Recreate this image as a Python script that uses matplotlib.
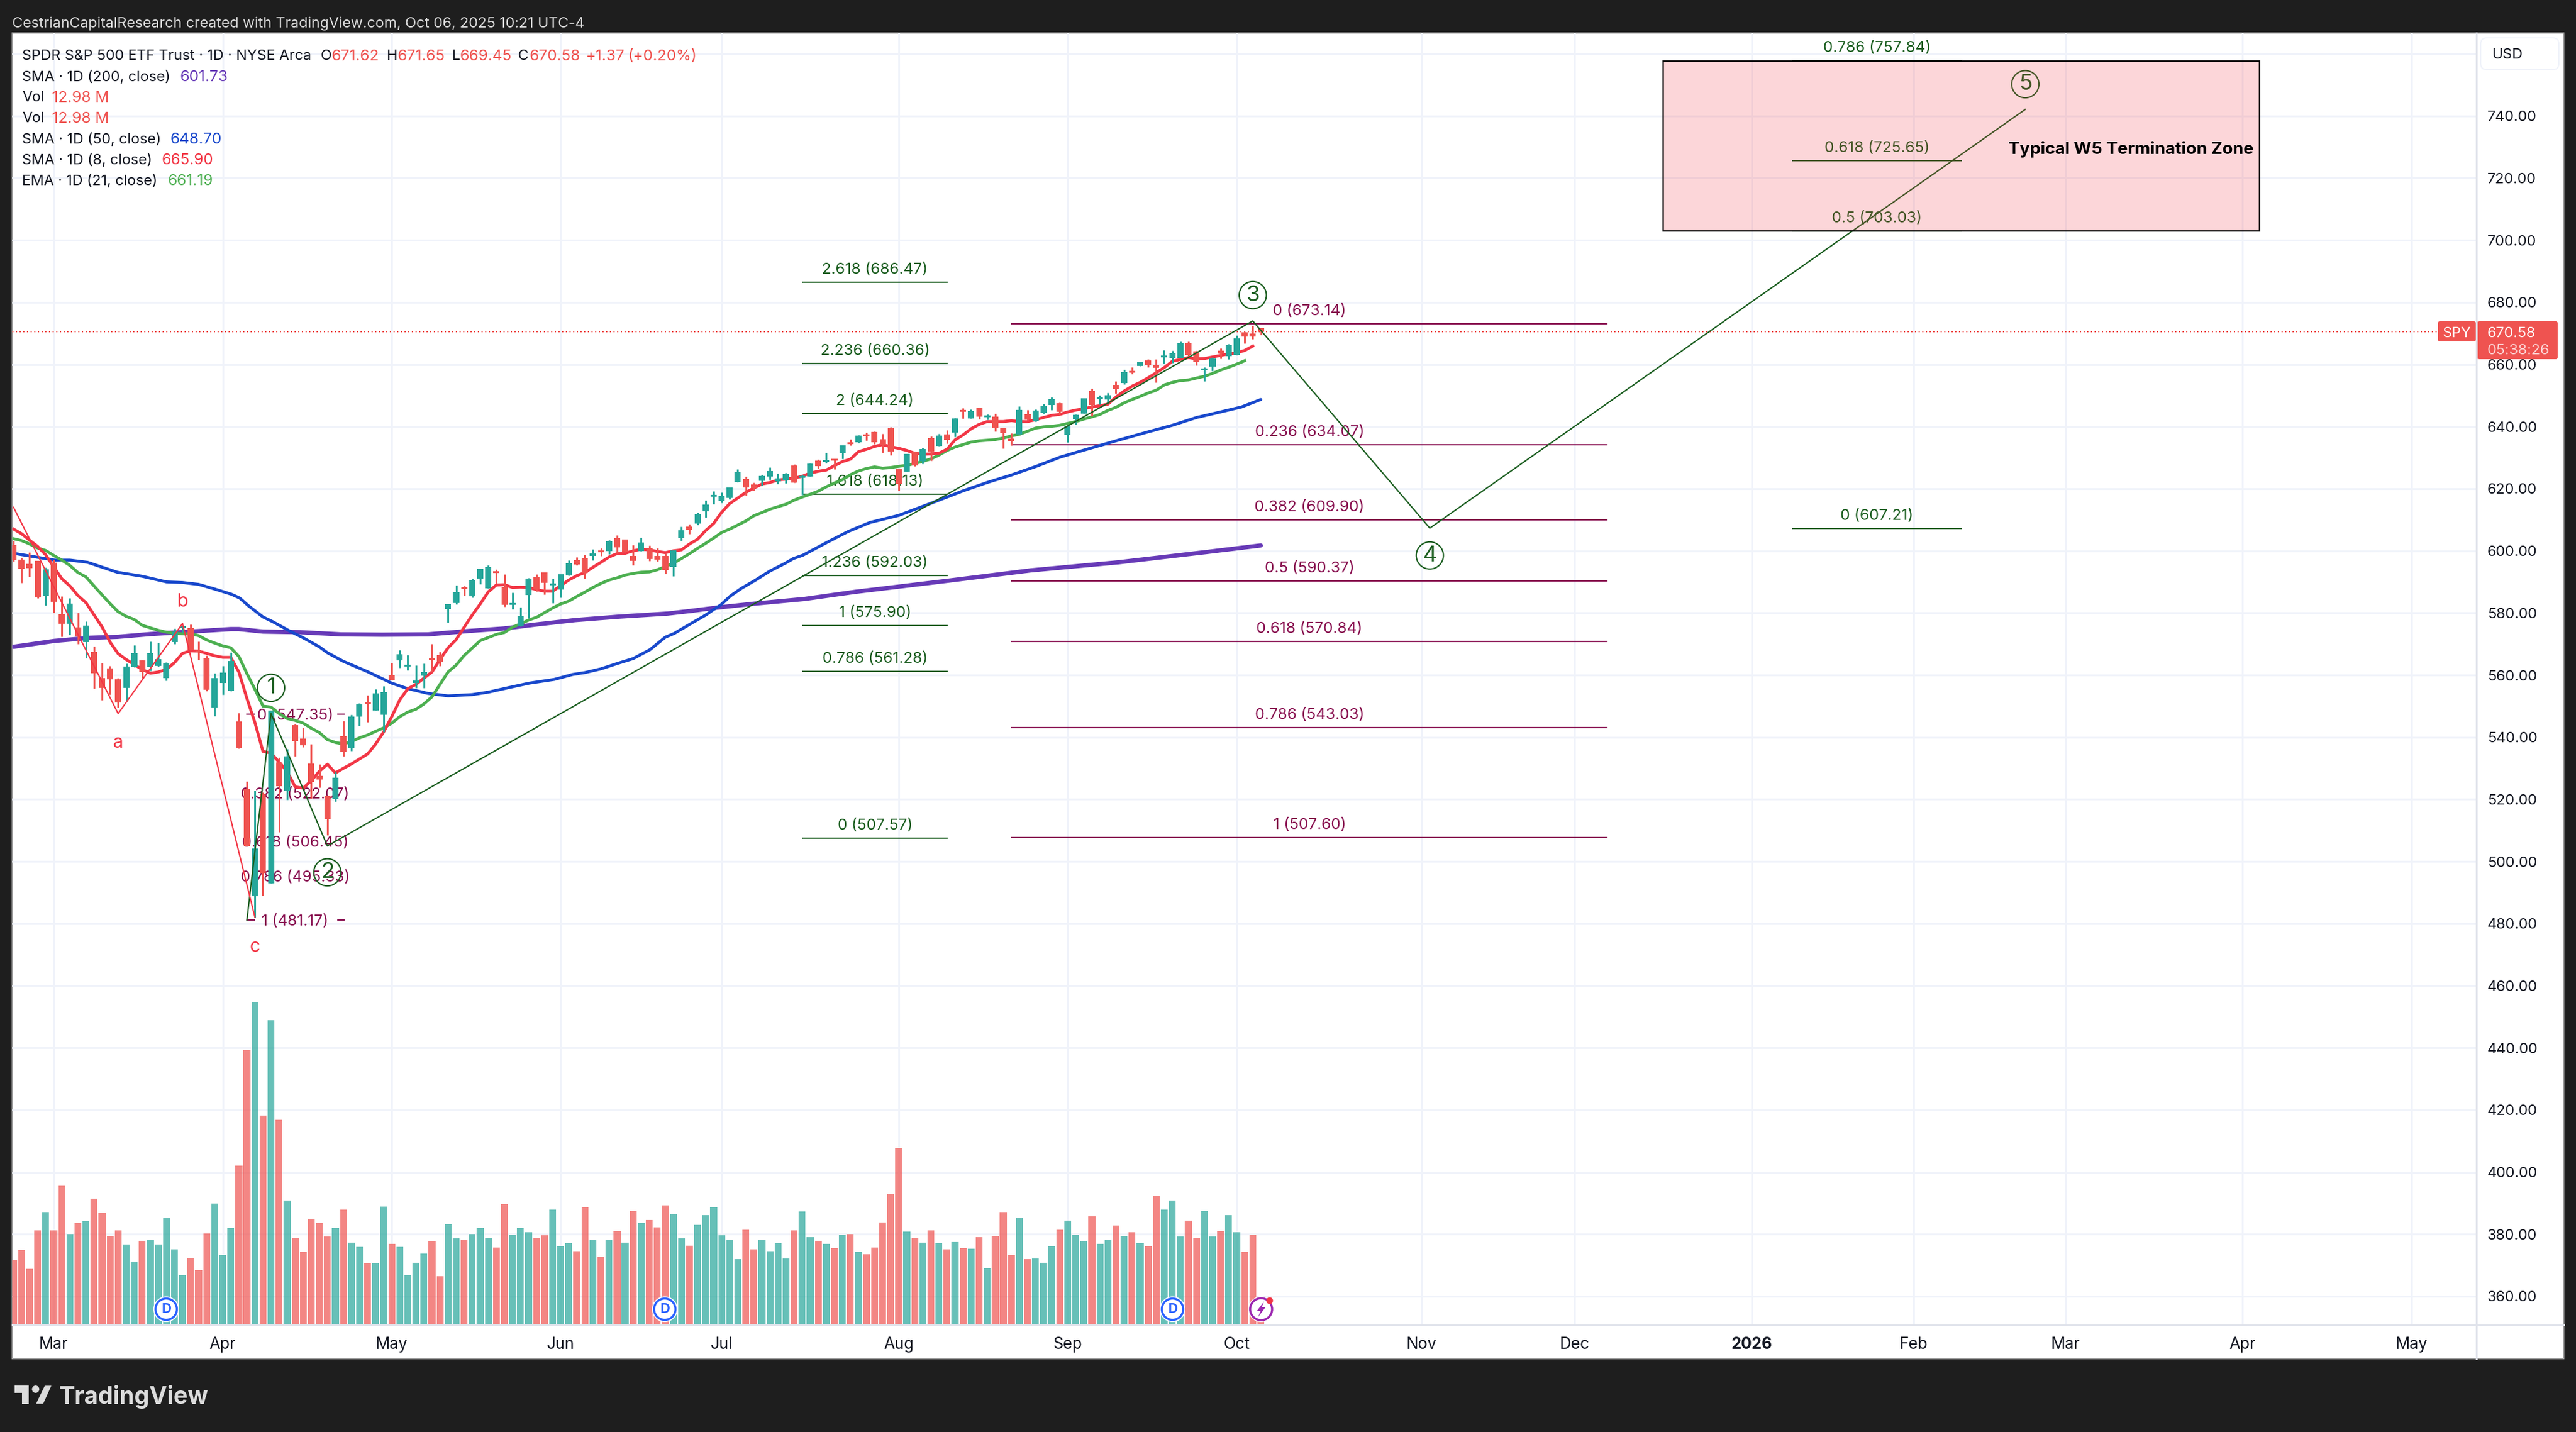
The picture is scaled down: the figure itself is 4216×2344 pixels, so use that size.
import matplotlib
matplotlib.use("Agg")
import matplotlib.pyplot as plt
from matplotlib.patches import Rectangle, Circle, FancyBboxPatch, Polygon

plt.rcParams['font.family'] = ['Inter', 'DejaVu Sans']

# ---------- data ----------
first_bar = -5   # Feb 24 2025; bar 0 is Mar 3 2025
opens = [601.9,597.2,595.7,596.8,585.6, 596.1,579.7,576.5,575.3,570.6,567.5,559.1,562.2,558.6,555.9,
 562.6,564.7,562.6,563.0,559.1,570.6,575.2,575.2,567.7,565.5,549.5,557.4,554.8,545.0,523.5,
 488.9,521.7,493.0,531.9,522.6,543.9,539.5,531.4,527.5,521.0,520.0,540.3,536.6,546.6,551.0,
 548.6,547.3,560.1,564.7,562.7,557.5,559.8,565.6,566.5,581.3,583.2,587.9,585.3,591.0,588.0,
 593.0,588.3,582.7,575.7,585.7,591.4,593.0,589.0,587.5,592.1,596.9,597.5,598.3,599.8,600.0,
 604.0,603.6,598.3,600.0,601.0,598.3,598.3,594.8,604.0,607.7,608.7,612.7,617.5,616.0,617.0,
 622.2,623.2,621.3,622.6,623.9,622.4,622.8,627.5,623.6,624.0,629.1,628.6,629.1,631.4,634.6,
 634.9,637.2,638.2,635.9,639.4,626.2,625.5,631.8,628.8,636.3,633.7,637.4,638.1,645.0,642.6,
 645.9,643.0,643.1,639.4,636.2,637.5,643.9,641.8,644.3,647.0,647.5,637.3,642.4,644.2,651.4,
 648.9,648.7,653.5,654.0,657.5,659.5,661.3,659.8,662.2,662.0,662.1,666.7,664.3,658.1,659.4,
 664.4,662.7,663.1,670.4,669.9,671.62]
highs = [603.2,597.7,599.5,596.8,594.6, 597.2,585.3,584.8,580.1,577.3,569.3,563.9,563.0,559.0,563.7,
 569.6,564.9,570.8,570.4,564.2,575.0,575.8,576.3,570.8,566.2,560.6,563.0,567.2,547.8,525.8,
 522.9,522.2,548.6,533.4,536.3,544.2,543.0,537.8,531.2,521.0,529.0,545.3,547.3,550.9,553.5,
 555.4,556.4,563.9,568.1,566.4,563.2,563.7,570.0,567.5,582.9,589.0,588.8,591.0,594.2,595.4,
 594.0,592.4,586.5,581.8,591.2,592.5,593.0,591.0,592.5,596.9,597.9,598.8,600.6,601.0,603.4,
 605.0,603.6,601.8,604.3,601.6,601.0,599.1,600.4,607.7,608.6,612.3,616.3,619.1,618.8,620.3,
 626.2,623.9,622.0,624.5,626.8,624.9,625.1,627.8,624.5,628.3,629.4,631.5,629.6,634.0,636.0,
 637.2,638.0,638.5,637.7,639.8,626.5,631.1,632.0,633.2,636.8,637.6,638.8,642.7,646.0,645.5,
 646.1,643.9,644.1,639.6,637.8,646.5,645.3,645.5,647.4,649.5,647.8,640.1,644.0,649.1,652.2,
 650.0,650.8,654.6,658.3,659.2,660.9,661.6,661.6,664.7,664.5,667.3,667.3,664.5,659.2,662.2,
 665.2,666.5,669.3,670.6,672.5,671.65]
lows = [596.5,589.7,591.6,584.8,582.5, 580.0,572.3,573.0,570.1,565.6,555.6,552.0,553.7,549.5,551.5,
 562.6,559.1,561.3,562.8,558.2,570.0,573.8,568.1,564.9,554.9,546.8,553.7,554.8,536.5,505.0,
 482.0,489.1,493.0,509.4,519.9,533.9,536.8,520.2,523.8,508.5,519.2,533.9,535.7,543.7,544.9,
 548.6,541.7,558.4,562.3,561.6,555.9,555.9,561.0,563.0,577.0,582.9,585.5,585.0,589.3,588.0,
 589.5,582.0,581.3,575.7,578.3,587.0,586.0,583.2,585.0,592.1,595.4,591.1,596.9,598.4,599.0,
 599.2,599.5,595.4,600.0,596.8,596.5,592.7,591.9,603.2,605.4,608.4,610.8,615.0,615.5,616.7,
 622.2,617.9,619.4,620.9,622.9,621.6,621.8,621.9,618.0,624.0,626.5,628.3,626.2,629.7,634.0,
 634.7,635.6,634.4,631.6,630.8,619.3,625.5,627.2,628.1,629.1,633.7,634.6,636.7,642.6,642.6,
 642.4,642.2,638.4,632.9,634.0,637.5,642.1,641.6,644.2,645.4,643.7,634.9,640.6,644.2,643.4,
 647.2,647.5,650.6,653.6,657.0,659.5,659.1,654.2,660.3,660.4,662.1,662.2,659.8,654.6,658.0,
 661.9,661.7,663.1,666.8,668.1,669.45]
closes = [597.0,594.3,594.4,585.0,594.1, 583.6,576.6,583.0,572.3,576.0,560.5,555.8,558.6,551.2,562.8,
 567.1,560.9,567.1,565.2,563.9,573.9,575.4,568.1,567.2,555.2,559.1,560.8,564.5,536.5,505.0,
 504.2,496.2,548.6,524.3,533.9,538.8,537.3,525.6,526.3,513.6,527.0,535.2,546.6,550.5,550.7,
 554.2,554.4,558.4,566.7,563.0,558.2,560.9,565.0,564.2,582.9,586.7,587.7,590.4,594.2,594.8,
 592.8,582.6,582.9,579.0,591.1,587.5,589.7,589.2,592.5,595.9,595.6,592.9,599.1,599.6,603.0,
 601.1,599.8,596.8,602.6,597.3,597.1,593.9,600.1,606.7,606.8,611.8,614.8,617.9,617.6,620.3,
 625.2,620.4,620.2,624.1,625.6,623.4,624.7,621.9,624.0,628.0,627.3,628.8,629.0,634.0,634.3,
 637.0,636.9,635.0,634.2,631.9,621.6,631.1,627.5,632.7,632.0,637.0,635.7,642.6,644.8,645.0,
 643.2,643.2,639.6,637.8,635.4,645.3,642.2,645.2,646.5,648.9,644.8,640.1,643.8,649.0,647.0,
 649.1,650.1,652.1,657.5,657.3,660.8,659.7,659.0,662.4,663.6,666.7,663.0,660.9,658.2,661.8,
 663.4,666.2,668.3,668.9,669.0,670.58]
volume_m = [51.0,58.9,43.9,74.4,89.1, 74.4,109.9,71.6,80.4,81.8,99.8,88.7,70.2,74.4,63.3,
 49.7,66.3,67.2,63.3,84.3,59.4,39.0,52.7,42.7,72.1,95.8,55.0,76.4,126.1,218.0,
 256.4,166.1,241.8,162.6,98.4,68.6,57.5,83.8,80.4,69.5,76.4,91.0,64.7,61.4,48.3,
 48.3,93.5,63.7,61.4,39.0,48.7,55.9,65.8,37.9,79.4,68.1,66.7,71.6,76.4,68.6,
 60.7,95.4,71.1,76.4,73.0,68.6,70.7,91.0,61.9,64.2,58.0,93.1,67.2,53.6,66.7,
 73.9,64.7,90.1,80.4,82.7,76.9,94.5,87.7,68.3,62.4,79.0,86.7,93.2,70.7,66.8,
 51.7,75.1,59.5,66.8,58.0,64.4,52.2,74.6,89.8,69.1,66.3,63.9,60.5,71.2,71.7,
 57.5,55.6,60.9,81.0,103.8,140.3,73.5,68.8,64.9,74.6,64.4,59.5,65.3,60.5,60.0,
 69.1,44.3,70.2,89.3,55.1,84.9,51.7,52.2,48.7,61.9,75.1,82.3,71.2,65.8,85.7,
 63.9,66.8,78.4,70.2,73.2,64.4,61.9,102.3,91.1,98.4,69.7,82.3,68.8,90.1,69.7,
 74.0,86.7,73.2,57.5,71.2,12.98]

sma8 = [607,605.5,603.4,601.4,598.7, 594.8,591,588.7,585.6,583.3,579.4,575.5,570.6,566.9,565,
 563.4,561.8,560.6,561,561.8,564,567,567.8,567.7,567,566.2,565.7,565.7,561,552.5,
 544.7,535.4,534.9,532,529,524,523.6,526,529,531.3,528.5,530,531.4,533,534.6,
 537.8,541.7,546.6,552,555.6,557,559,561,565,568.8,571.4,575.4,579.3,582.9,586.8,
 589,589.1,588.2,588.3,588.2,587.5,587,587,588.8,590.6,592,593,594.7,596.3,598,
 599.1,599.2,600,600.5,600.3,599.8,599.4,600,600.3,602.2,603.7,606.5,608.8,612.4,615.2,
 617,618.8,620.2,621.5,622,622.8,623.1,623.4,624,625,625.6,626,627.4,628.7,629.5,
 631.9,632.7,633.6,634.2,633.5,633,632.3,631.4,631.1,631.2,631.4,632.7,635.7,637.3,639.3,
 640.7,641.6,641.6,641.6,641.9,641.6,641.6,642.2,642.9,643.6,643.9,644.7,645.3,645.7,646.3,
 646.7,647.2,649.5,651.4,653,654.2,655.7,657.3,659,661,661.6,662.2,661.8,661.9,662.4,
 662.9,663.4,663.7,664.5,665.9]
ema21 = [603.9,603.3,602.2,600.9,600.1, 598.5,597,595.3,593,591.6,588.7,585.8,583,580.4,578.9,
 577.9,576,575.2,574.4,573.8,573.5,573.3,573.3,572.7,571.3,570.3,569.4,568.8,566,560.5,
 555.4,550,549.7,547.6,546,545.4,544.5,542.9,541.5,539.2,538.3,537.8,538.6,539.8,540.7,
 541.9,543,544.5,546.6,548.1,549,550.7,553,557,561,563.2,566.3,568.7,571.1,572.1,
 573.1,573.7,575.4,576.5,577.7,578.6,580.1,581.6,582.9,583.8,585.3,586.7,588.2,589.5,590.6,
 591.3,592.2,592.7,593.1,593.2,593.9,594.9,596,597.5,599.1,600.8,602.4,604.1,605.9,607,
 608.3,609.6,611.3,612.3,613.4,614.2,615,616.3,617.3,618.2,619.2,620.6,621.8,622.9,624.5,
 625.7,626.5,627,626.6,626.8,627.2,627.5,628.1,628.8,629.6,630.8,632.3,633.4,634.2,635,
 635.4,635.6,635.8,636.3,637,637.5,638.5,639.5,639.9,640.1,640.4,641,641.6,642.4,643.1,
 643.9,645.2,646.2,647.6,648.7,649.7,650.8,651.7,653.4,654.2,654.8,655,655.6,656.2,657.1,
 658.2,659.1,660.1,661.19]
ema21_first = -5
sma50_x = [-5,0.1,2,4.2,7.9,11,14,16,18,20,22.1,23.1,24.2,26,27.2,29.3,31,33,34,36,38.9,42,43.9,46.5,49,52,54,56.6,59.1,62.2,64.5,66,68,70,72,74.1,76,77.1,79,81,82,82.9,84.1,85.5,87.1,89,90.9,91.9,93.1,96,98.7,101.4,105,108.7,113,116,119,122.1,125,128,132,136,139,142,145,147.6,150]
sma50_y = [599.2,597,597,596.3,593.1,591.8,590,589.8,589.2,587.7,586,584.8,582.3,578.7,577.2,574.2,572,569.1,567.2,564.4,561.2,557.4,555.7,554.1,553.3,553.7,554.5,556,557.4,558.6,560.2,560.8,562,563.7,565.3,568.2,572.2,573.4,576.3,579.3,581.1,582.6,585.5,588,590.4,593.5,596,597.5,598.6,602.6,606.2,609.1,611.4,615,619.3,622,624.4,627.2,630.1,632.4,635.4,638.3,640.4,642.9,644.7,646.3,648.7]
sma200_x = [-5,0.1,4.5,7.9,12,17,22,23,26,30.6,35.7,40.8,46.5,51.6,56,60,64.8,70.2,76.3,79,82.4,87.1,93.3,99.6,111.2,121.4,132.3,143.2,150]
sma200_y = [569.1,571,572,572.3,573.2,574,574.8,574.8,574,573.8,573.1,573,573.1,574.2,575,576.3,577.7,578.8,579.8,580.6,581.7,583,584.5,586.8,590.4,593.7,596.3,599.6,601.73]

vol_dirs = ("rrrrg" "rrgrgrrrrg" "grgggggrrr" "gggrrgrgrg" "rrrrrgrggr" "ggrggggrrg"
            "grgggrrggg" "rrgggrrgrg" "rgrgrrrggr" "ggggggrrgg" "ggrggrgrgr"
            "grrrrrgrgr" "grgrgrgrrr" "grgggrgggr" "ggrgrgrrgg" "grrgg" "rggrrr")

level_green = [2.618,2.236,2,1.618,1.236,1,0.786,0]
price_green = [686.47,660.36,644.24,618.13,592.03,575.90,561.28,507.57]
level_purple = [0,0.236,0.382,0.5,0.618,0.786,1]
price_purple = [673.14,634.07,609.90,590.37,570.84,543.03,507.60]
level_apr = [0,0.382,0.618,0.786,1]
price_apr = [547.35,522.07,506.45,495.33,481.17]
level_top = [0.786,0.618,0.5,0]
price_top = [757.84,725.65,703.03,607.21]

wave_x = [24,27,34,149,171,245]
wave_y = [481.1,547.6,505.0,674.0,607.3,742.1]
abc_x = [-5,8,16,25]
abc_y = [614,547.6,576.6,482]
wave_labels = ["1","2","3","4","5"]
wave_lx = [27,34,149,171,245]
wave_ly = [555.9,496.5,682.3,598.5,750.2]
abc_labels = ["a","b","c"]
abc_lx = [8,16,25]
abc_ly = [538.6,584,472.9]

month_labels = ["Mar","Apr","May","Jun","Jul","Aug","Sep","Oct","Nov","Dec","2026","Feb","Mar","Apr","May"]
month_x = [0,21,42,63,83,105,126,147,170,189,211,231.1,250,272,293]
price_ticks = [360,380,400,420,440,460,480,500,520,540,560,580,600,620,640,660,680,700,720,740,760]
last_price = 670.58

GREEN_TXT = "#1b5e20"; PURP = "#880e4f"; RED = "#f23645"
UP = "#26a69a"; DOWN = "#ef5350"; INK = "#131722"
def px(v): return v * 0.72
DY = 2.5   # text centring correction, pixels

# ---------- figure ----------
W, H = 4216, 2344
fig = plt.figure(figsize=(W/100, H/100), dpi=100, facecolor="#1e1e1e")

under = fig.add_axes([0,0,1,1], zorder=0); under.set_xlim(0,W); under.set_ylim(H,0); under.axis("off")
under.add_patch(Rectangle((20,54),4176,2170,fc="white",ec="#9a9a9a",lw=px(2)))

pos = [20/W,(H-2169)/H,(4053-20)/W,(2169-54)/H]
XL = (-5.163,301.06)
YL = (350.76,766.69)
axg = fig.add_axes(pos, zorder=1)
axv = fig.add_axes(pos, zorder=2)
axp = fig.add_axes(pos, zorder=3)
for a in (axg,axv,axp):
    a.patch.set_visible(False)
    a.set_xlim(*XL); a.set_xticks([]); a.set_yticks([])
    for s in a.spines.values(): s.set_visible(False)
axg.set_ylim(*YL)
axv.set_ylim(-0.97,1028.7)
axp.set_ylim(*YL)

# grid
for t in price_ticks:
    axg.axhline(t,color="#f0f3fa",lw=px(3))
for x in month_x:
    axg.axvline(x,color="#f0f3fa",lw=px(3))

# volume
xs = list(range(first_bar, first_bar+len(closes)))
vcol = [UP if d=="g" else DOWN for d in vol_dirs]
axv.bar(xs, volume_m, width=0.85, color=vcol, alpha=0.7, lw=0)

def atext(x,y,s,**kw):
    axp.annotate(s,xy=(x,y),xytext=(0,px(-DY)),textcoords="offset points",ha="center",va="center",**kw)

# fibs
def fib(levels, prices, x0, x1, col):
    for l,p in zip(levels,prices):
        axp.plot([x0,x1],[p,p],color=col,lw=px(2.2),zorder=2,solid_capstyle="butt")
        axp.annotate(f"{l:g} ({p:.2f})",xy=((x0+x1)/2,p),xytext=(0,px(23-DY)),textcoords="offset points",
                     ha="center",va="center",color=col,fontsize=px(25),zorder=2)
fib(level_green,price_green,93.0,111.1,GREEN_TXT)
fib(level_purple,price_purple,119,193.1,PURP)
fib(level_top,price_top,216,237.1,GREEN_TXT)
for l,p in zip(level_apr,price_apr):
    atext(30,p,f"{l:g} ({p:.2f})",color=PURP,fontsize=px(25),zorder=2)
for p in (price_apr[0],price_apr[-1]):
    axp.plot([24,24.9],[p,p],color=PURP,lw=px(2.2),zorder=2)
    axp.plot([35.3,36.1],[p,p],color=PURP,lw=px(2.2),zorder=2)

# moving averages
axp.plot(sma200_x,sma200_y,color="#673ab7",lw=px(7),zorder=3,solid_capstyle="round")
axp.plot(sma50_x,sma50_y,color="#1848cc",lw=px(4.8),zorder=3,solid_capstyle="round")
axp.plot(range(ema21_first,ema21_first+len(ema21)),ema21,color="#4caf50",lw=px(4.8),zorder=3)
axp.plot(range(first_bar,first_bar+len(sma8)),sma8,color=RED,lw=px(4.8),zorder=3)

# candles
ccol = [UP if c>=o else DOWN for o,c in zip(opens,closes)]
axp.vlines(xs,lows,highs,colors=ccol,lw=px(3),zorder=4)
axp.bar(xs,[max(abs(c-o),0.6) for o,c in zip(opens,closes)],
        bottom=[min(o,c) for o,c in zip(opens,closes)],width=0.76,color=ccol,lw=0,zorder=4)

# wave drawings
axp.plot(wave_x,wave_y,color=GREEN_TXT,lw=px(2.2),zorder=5)
axp.plot(abc_x,abc_y,color=RED,lw=px(2.2),zorder=5)
for t,x,y in zip(wave_labels,wave_lx,wave_ly):
    axp.text(x,y,t,ha="center",va="center",color=GREEN_TXT,fontsize=px(36),zorder=5,
             bbox=dict(boxstyle="circle,pad=0.16",fc="none",ec=GREEN_TXT,lw=px(2.2)))
for t,x,y in zip(abc_labels,abc_lx,abc_ly):
    atext(x,y,t,color=RED,fontsize=px(30),zorder=5)

# last price line
axp.plot([XL[0],296.26],[last_price,last_price],color=DOWN,lw=px(2),ls=(0,(1,2)),zorder=3)

# termination zone
axp.add_patch(Rectangle((200,703),74.1,54.6,fc=(242/255,54/255,69/255,0.2),ec="black",lw=px(2.4),zorder=6))
axp.text(273.4,729.2,"Typical W5 Termination Zone",ha="right",va="center",fontsize=px(27.8),
         fontweight="bold",color="black",zorder=7)

# ---------- overlay ----------
ov = fig.add_axes([0,0,1,1], zorder=5); ov.set_xlim(0,W); ov.set_ylim(H,0); ov.axis("off"); ov.patch.set_visible(False)
ov.plot([4053,4053],[54,2224],color="#e0e3eb",lw=px(3))
ov.plot([20,4196],[2169,2169],color="#e0e3eb",lw=px(3))

def ypx(p): return 2122-(p-360)*5.085
def otx(x,y,s,fs,c=INK,ha="left",**kw):
    return ov.text(x,y+DY,s,ha=ha,va="center",fontsize=px(fs),color=c,**kw)
for t in price_ticks[:-1]:
    otx(4071,ypx(t),f"{t:.2f}",24)
for lab,x in zip(month_labels,month_x):
    otx(88+x*13.17,2198,lab,26,ha="center",fontweight="bold" if lab=="2026" else "normal")

ov.add_patch(FancyBboxPatch((4064,66),120,44,boxstyle="round,pad=4,rounding_size=10",fc="white",ec="#f0f3fa",lw=px(2)))
otx(4079,88,"USD",24)

ov.add_patch(FancyBboxPatch((3992,528),58,29,boxstyle="round,pad=2,rounding_size=3",fc=DOWN,ec="none"))
otx(4021,543,"SPY",24,"white",ha="center")
ov.add_patch(FancyBboxPatch((4056,528),128,58,boxstyle="round,pad=2,rounding_size=3",fc=DOWN,ec="none"))
otx(4071,543,f"{last_price:.2f}",24,"white")
otx(4071,572,"05:38:26",24,"#fbd0d0")

# header
otx(20,36,"CestrianCapitalResearch created with TradingView.com, Oct 06, 2025 10:21 UTC-4",23.8,"#d9d9d9")
def tx(x,y,s,c=INK):
    otx(x,y,s,23.8 if c==INK else 25,c)
tx(36,90,"SPDR S&P 500 ETF Trust · 1D · NYSE Arca")
for x,s,c in [(525,"O",INK),(543,"671.62",DOWN),(633,"H",INK),(650,"671.65",DOWN),(740,"L",INK),(753,"669.45",DOWN),
              (848,"C",INK),(866,"670.58",DOWN),(959,"+1.37",DOWN),(1027,"(+0.20%)",DOWN)]:
    tx(x,90,s,c)
tx(36,124,"SMA · 1D (200, close)"); tx(294,124,"601.73","#673ab7")
tx(36,158,"Vol"); tx(85,158,"12.98 M",DOWN)
tx(36,192,"Vol"); tx(85,192,"12.98 M",DOWN)
tx(36,226,"SMA · 1D (50, close)"); tx(279,226,"648.70","#1848cc")
tx(36,260,"SMA · 1D (8, close)"); tx(265,260,"665.90",RED)
tx(36,294,"EMA · 1D (21, close)"); tx(274,294,"661.19","#4caf50")

# events
for cx in (272,1088,1919):
    ov.add_patch(Circle((cx,2143),21,fc="white",ec="none"))
    ov.add_patch(Circle((cx,2143),17.5,fc="white",ec="#2962ff",lw=px(3.5)))
    ov.text(cx,2143,"D",ha="center",va="center",fontsize=px(22),fontweight="bold",color="#2962ff")
ov.add_patch(Circle((2064,2143),21,fc="white",ec="none"))
ov.add_patch(Circle((2064,2143),18,fc="white",ec="#9c27b0",lw=px(3.5)))
ov.add_patch(Polygon([(2069,2130),(2057,2146),(2063,2146),(2059,2156),(2071,2140),(2065,2140)],fc="#9c27b0",ec="none"))
ov.add_patch(Circle((2078,2129),5.5,fc=RED,ec="none"))

# logo
LG = "#dcdcdc"
ov.add_patch(Polygon([(24,2268.3),(46.7,2268.3),(46.7,2297.7),(36,2297.7),(36,2280),(24,2280)],fc=LG,ec="none"))
ov.add_patch(Circle((58.3,2274),6,fc=LG,ec="none"))
ov.add_patch(Polygon([(73.3,2268.3),(84,2268.3),(70.7,2297.7),(59,2297.7)],fc=LG,ec="none"))
ov.text(97,2297.7,"TradingView",ha="left",va="baseline",fontsize=px(39),fontweight="bold",color=LG)

fig.savefig("out.png",dpi=100,facecolor=fig.get_facecolor())
